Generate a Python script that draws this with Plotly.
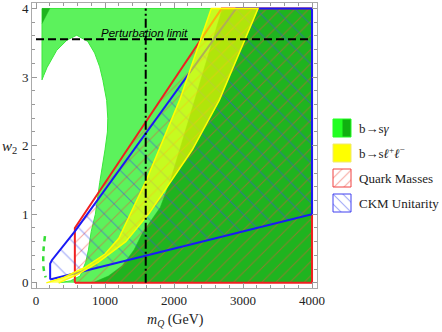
import plotly.graph_objects as go

# region boundaries: m_Q (GeV), w_2
# light green b->s gamma: edge of the white hole, bottom -> top
lg_m = [330, 500, 640, 720, 760, 800, 860, 923, 1000, 1035, 1040, 1024, 970, 923, 850, 750, 590, 450, 300, 160, 110, 87, 87]
lg_w = [0, 0.03, 0.1, 0.3, 0.48, 0.75, 1.0, 1.46, 1.94, 2.2, 2.4, 2.66, 2.95, 3.15, 3.35, 3.52, 3.61, 3.54, 3.39, 3.14, 3.02, 2.96, 4]
# dark green b->s gamma: left edge, bottom -> top
dg_m = [820, 1050, 1250, 1420, 1545, 1800, 1950, 2300, 2700]
dg_w = [0, 0.1, 0.25, 0.48, 0.73, 1.1, 1.5, 2.66, 4]
# small dark corner at top left
dc_m = [87, 200, 87]
dc_w = [4, 4, 3.78]
# b->s l+l- band
yl_m = [150, 400, 700, 1000, 1200, 1330, 1600, 2080, 2540]
yl_w = [0, 0.08, 0.22, 0.42, 0.65, 0.92, 1.5, 2.66, 4]
yr_m = [3218, 2655, 2265, 1645, 1300, 900, 600, 330]
yr_w = [4, 2.66, 1.94, 1.02, 0.6, 0.3, 0.12, 0]
# quark masses
qm_m = [563, 563, 2690, 4000, 4000, 563]
qm_w = [0, 0.8, 4, 4, 0, 0]
# CKM unitarity
ckm_m = [205, 205, 230, 563, 2900, 4000, 4000, 375, 205]
ckm_w = [0.05, 0.28, 0.33, 0.75, 4, 4, 1.0, 0.09, 0.05]
# dashed green arc near the origin
arc_m = [130, 112, 105, 112, 140]
arc_w = [0.68, 0.52, 0.35, 0.2, 0.08]

m_cut = 1590
w_pert = 3.55

LG = '#5cf25c'
DG = '#1fb41f'

fig = go.Figure()

fig.add_trace(go.Scatter(x=lg_m + [4000, 4000], y=lg_w + [4, 0], fill='toself', mode='lines',
                         fillcolor=LG, line=dict(color='#3be83b', width=1)))
fig.add_trace(go.Scatter(x=dg_m + [4000, 4000], y=dg_w + [4, 0], fill='toself', mode='lines',
                         fillcolor=DG, line=dict(color=DG, width=0.5)))
fig.add_trace(go.Scatter(x=dc_m, y=dc_w, fill='toself', mode='lines',
                         fillcolor=DG, line=dict(color=DG, width=0.5)))
fig.add_trace(go.Scatter(x=qm_m, y=qm_w, fill='toself', mode='lines', fillcolor='rgba(0,0,0,0)',
                         fillpattern=dict(shape='/', fgcolor='#f04a3a', bgcolor='rgba(0,0,0,0)', size=10, solidity=0.1),
                         line=dict(color='#f02020', width=2)))
fig.add_trace(go.Scatter(x=ckm_m, y=ckm_w, fill='toself', mode='lines', fillcolor='rgba(0,0,0,0)',
                         fillpattern=dict(shape='\\', fgcolor='#3a4af0', bgcolor='rgba(0,0,0,0)', size=14, solidity=0.08),
                         line=dict(color='#1a1af5', width=2)))
fig.add_trace(go.Scatter(x=yl_m + yr_m, y=yl_w + yr_w, fill='toself', mode='lines',
                         fillcolor='rgba(255,255,0,0.65)', line=dict(color='#ffff00', width=1.5)))
fig.add_trace(go.Scatter(x=arc_m, y=arc_w, mode='lines', line=dict(color='#33dd33', width=2.5, dash='5px,5px'),
                         line_shape='spline'))
fig.add_trace(go.Scatter(x=[0, 4000], y=[w_pert, w_pert], mode='lines', line=dict(color='black', width=2, dash='8px,4px')))
fig.add_trace(go.Scatter(x=[m_cut, m_cut], y=[0, 4], mode='lines', line=dict(color='black', width=2, dash='9px,3px,2px,3px')))

fig.add_annotation(x=2230, y=w_pert, text='<i>Perturbation limit</i>', showarrow=False,
                   xanchor='right', yanchor='bottom', yshift=-2,
                   font=dict(family='Liberation Sans', size=11.5, color='black'))

# legend drawn on a pixel-unit helper axis
leg_items = ['b→s<i>γ</i>', 'b→s<i>ℓ</i><sup>+</sup><i>ℓ</i><sup>−</sup>', 'Quark Masses', 'CKM Unitarity']
leg_y = [128, 153, 178, 203]
bx0, bx1, half = 333, 351, 9

def box(x0, x1, yc):
    return [x0, x1, x1, x0, x0], [yc - half, yc - half, yc + half, yc + half, yc - half]

bx, by = box(bx0, (bx0 + bx1) / 2, leg_y[0])
fig.add_trace(go.Scatter(x=bx, y=by, xaxis='x2', yaxis='y2', fill='toself', mode='lines',
                         fillcolor='#22ff22', line=dict(color='#22ff22', width=1)))
bx, by = box((bx0 + bx1) / 2, bx1, leg_y[0])
fig.add_trace(go.Scatter(x=bx, y=by, xaxis='x2', yaxis='y2', fill='toself', mode='lines',
                         fillcolor='#10b010', line=dict(color='#22ff22', width=1)))
bx, by = box(bx0, bx1, leg_y[1])
fig.add_trace(go.Scatter(x=bx, y=by, xaxis='x2', yaxis='y2', fill='toself', mode='lines',
                         fillcolor='#ffff00', line=dict(color='#f0e870', width=1)))
bx, by = box(bx0, bx1, leg_y[2])
fig.add_trace(go.Scatter(x=bx, y=by, xaxis='x2', yaxis='y2', fill='toself', mode='lines', fillcolor='rgba(0,0,0,0)',
                         fillpattern=dict(shape='/', fgcolor='#f04a3a', bgcolor='rgba(0,0,0,0)', size=7, solidity=0.15),
                         line=dict(color='#f04040', width=1)))
bx, by = box(bx0, bx1, leg_y[3])
fig.add_trace(go.Scatter(x=bx, y=by, xaxis='x2', yaxis='y2', fill='toself', mode='lines', fillcolor='rgba(0,0,0,0)',
                         fillpattern=dict(shape='\\', fgcolor='#3a4af0', bgcolor='rgba(0,0,0,0)', size=7, solidity=0.15),
                         line=dict(color='#4040f0', width=1)))
for t, yc in zip(leg_items, leg_y):
    fig.add_annotation(x=357, y=yc, xref='x2', yref='y2', text=t, showarrow=False, xanchor='left',
                       font=dict(family='Liberation Serif', size=13, color='#222'))

fig.add_annotation(x=(175 - 32) / 408, y=(288 - 310) / 285, xref='paper', yref='paper', yanchor='top',
                   text='<i>m</i><sub><i>Q</i></sub> (GeV)', showarrow=False,
                   font=dict(family='Liberation Serif', size=14, color='#222'))
fig.add_annotation(x=(19 - 32) / 408, y=(288 - 147) / 285, xref='paper', yref='paper', xanchor='right',
                   text='<i>w</i><sub>2</sub>', showarrow=False,
                   font=dict(family='Liberation Serif', size=15, color='#222'))

axis_common = dict(showgrid=False, zeroline=False, showline=True, linecolor='#aaaaaa', linewidth=1,
                   mirror='allticks', ticks='inside', ticklen=5, tickcolor='#999999', automargin=False,
                   tickfont=dict(family='Liberation Serif', size=13, color='#222'))
fig.update_layout(
    width=442, height=332, margin=dict(l=32, r=2, t=3, b=44),
    plot_bgcolor='white', paper_bgcolor='white', showlegend=False,
    xaxis=dict(range=[-58, 4072], domain=[0, 285 / 408], tickvals=[0, 1000, 2000, 3000, 4000],
               minor=dict(ticks='inside', ticklen=3, dtick=200, tick0=0, tickcolor='#999999'), **axis_common),
    yaxis=dict(range=[-0.075, 4.08], tickvals=[0, 1, 2, 3, 4],
               minor=dict(ticks='inside', ticklen=3, dtick=0.2, tick0=0, tickcolor='#999999'), **axis_common),
    xaxis2=dict(domain=[298 / 408, 1], range=[330, 440], visible=False, anchor='y2'),
    yaxis2=dict(domain=[0, 1], range=[288, 3], visible=False, anchor='x2'),
)

fig.write_html("out.html", config={'displayModeBar': False},
               post_script="document.body.style.margin='0';")
